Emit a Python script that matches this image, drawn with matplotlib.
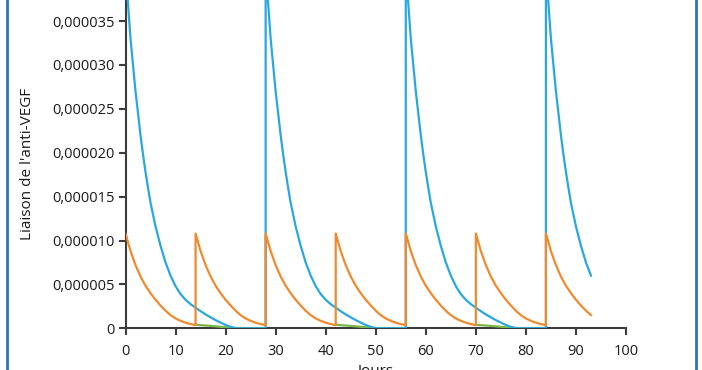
import matplotlib
matplotlib.use("Agg")
import matplotlib.pyplot as plt
from matplotlib.lines import Line2D
from matplotlib.ticker import FuncFormatter

plt.rcParams['font.family'] = ['Open Sans', 'DejaVu Sans']

# jours d'injection et fin de la simulation
doses_bleu = [0, 28, 56, 84]
doses_orange = [0, 14, 28, 42, 56, 70, 84]
doses_vert = [14, 42, 70]
fin = 93

# profil d'un cycle (jours après injection, liaison en unités de 1e-6)
bleu_t = [0, 0.5, 1, 1.5, 2, 2.5, 3, 3.5, 4, 4.5, 5, 6, 7, 8, 9, 10, 11, 12,
          13, 14, 15, 16, 17, 18, 19, 20, 21, 22, 28]
bleu_v = [41, 37, 33, 30, 27, 24.5, 22, 19.8, 17.8, 16, 14.3, 11.6, 9.4, 7.5,
          6.0, 4.8, 3.9, 3.25, 2.75, 2.35, 1.95, 1.58, 1.25, 0.93, 0.65, 0.38,
          0.16, 0.0, 0.0]

orange_t = [0, 1, 2, 3, 4, 5, 6, 7, 8, 9, 10, 11, 12, 13, 14]
orange_v = [10.8, 8.8, 7.2, 5.9, 4.85, 4.0, 3.25, 2.6, 2.0, 1.5, 1.12, 0.85,
            0.64, 0.48, 0.36]

vert_t = [0, 2, 4, 6, 8, 9, 14]
vert_v = [0.4, 0.32, 0.22, 0.12, 0.04, 0.0, 0.0]

x_ticks = [0, 10, 20, 30, 40, 50, 60, 70, 80, 90, 100]
y_ticks = [0, 5e-6, 10e-6, 15e-6, 20e-6, 25e-6, 30e-6, 35e-6]


def serie(doses, t, v, periode, coupe=False):
    xs, ys = [], []
    for d in doses:
        for ti, vi in zip(t, v):
            if ti > periode:
                break
            x = d + ti
            if x > fin:
                break
            xs.append(x)
            ys.append(vi * 1e-6)
        if coupe:
            # pas de trait entre deux cycles
            xs.append(float('nan'))
            ys.append(float('nan'))
    return xs, ys


BLEU = '#29a8e0'
ORANGE = '#f08a2e'
VERT = '#7ab648'
GRIS = '#3c3c3c'
TEXTE = '#1a1a1a'

fig = plt.figure(figsize=(7.02, 3.70), dpi=100)
ax = fig.add_axes([125.5 / 702, 41.7 / 370, 500.5 / 702, 328.3 / 370])

for doses, t, v, per, c, z, coupe in [
    (doses_vert, vert_t, vert_v, 14, VERT, 2, True),
    (doses_bleu, bleu_t, bleu_v, 28, BLEU, 3, False),
    (doses_orange, orange_t, orange_v, 14, ORANGE, 4, False),
]:
    xs, ys = serie(doses, t, v, per, coupe)
    ax.plot(xs, ys, color=c, lw=1.6, zorder=z, solid_joinstyle='round')

ax.set_xlim(0, 100)
ax.set_ylim(0, 3.74e-5)
ax.set_xticks(x_ticks)
ax.set_yticks(y_ticks)
ax.yaxis.set_major_formatter(FuncFormatter(
    lambda v, p: '0' if v == 0 else f'{v:.6f}'.replace('.', ',')))

for s in ['top', 'right']:
    ax.spines[s].set_visible(False)
for s in ['left', 'bottom']:
    ax.spines[s].set_color(GRIS)
    ax.spines[s].set_linewidth(1.5)
    ax.spines[s].set_zorder(1)
ax.tick_params(direction='out', length=5, width=1.5, color=GRIS,
               labelsize=10.5, labelcolor=TEXTE)
ax.tick_params(axis='y', pad=3)
ax.tick_params(axis='x', pad=6)

ax.set_ylabel("Liaison de l'anti-VEGF", fontsize=11, color=TEXTE, labelpad=12)
fig.text(375 / 702, 6 / 370, 'Jours', ha='center', va='top', fontsize=11,
         color=TEXTE)

# cadre bleu
for xf in [6.5 / 702, 695.5 / 702]:
    fig.add_artist(Line2D([xf, xf], [0, 1], transform=fig.transFigure,
                          color='#2f72b8', lw=2))

fig.savefig('out.png', dpi=100, facecolor='white')
